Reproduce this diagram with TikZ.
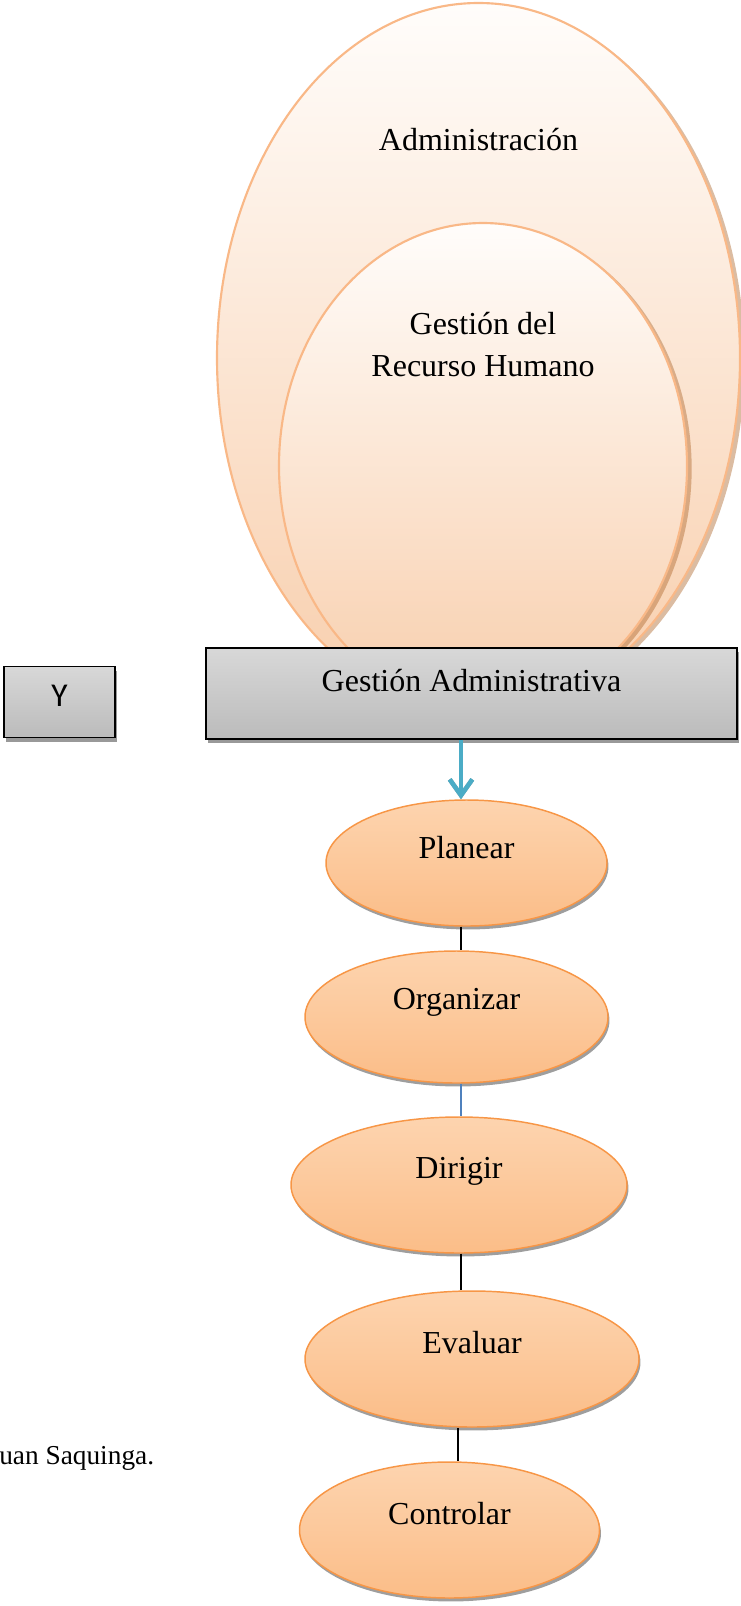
\documentclass[tikz,border=0pt]{standalone}
\usepackage{fontspec}
\setmainfont{Liberation Serif}
\newfontfamily\boxsans{Carlito}
\usetikzlibrary{shapes.geometric,arrows.meta,shadows}

% palette
\definecolor{peachline}{HTML}{F9B887}
\definecolor{peachtop}{HTML}{FFFDFB}
\definecolor{peachbot}{HTML}{F8CEAC}
\definecolor{shadebrown}{HTML}{B06A30}
\definecolor{procline}{HTML}{F79646}
\definecolor{proctop}{HTML}{FDD4AF}
\definecolor{procbot}{HTML}{FBBD88}
\definecolor{boxtop}{HTML}{D8D8D8}
\definecolor{boxbot}{HTML}{BBBBBB}
\definecolor{arrowblue}{HTML}{4BACC6}
\definecolor{linkblue}{HTML}{4F81BD}

\begin{document}
\begin{tikzpicture}[x=0.75pt,y=-0.75pt,
  bigoval/.style={ellipse, draw=peachline, line width=1.6pt,
    top color=peachtop, bottom color=peachbot, inner sep=0pt,
    drop shadow={shadow xshift=3.5pt, shadow yshift=-2pt, fill=shadebrown, opacity=.45}},
  procoval/.style={ellipse, draw=procline, line width=1.1pt,
    top color=proctop, bottom color=procbot, inner sep=0pt,
    drop shadow={shadow xshift=1.1pt, shadow yshift=-2.6pt, fill=black!38, opacity=1}},
  graybox/.style={rectangle, draw=black, line width=1.2pt,
    top color=boxtop, bottom color=boxbot, inner sep=0pt,
    drop shadow={shadow xshift=1.5pt, shadow yshift=-3pt, fill=black!40, opacity=1}},
  lbl/.style={font=\fontsize{24}{31.5}\selectfont, text=black, align=center},
  link/.style={line width=0.8pt, draw=black}
]
\useasboundingbox (0,0) rectangle (741,1606);

% nested concepts
\node[bigoval, minimum width=392.25pt, minimum height=532.5pt,
      label={[lbl, yshift=163.5pt]center:Administración}] (admin) at (478.5,358) {};
\node[bigoval, minimum width=306pt, minimum height=364.5pt,
      label={[lbl, yshift=90.75pt]center:{Gestión del\\Recurso Humano}}] (rrhh) at (483,466) {};

% headline boxes
\node[graybox, minimum width=398.25pt, minimum height=68.25pt,
      label={[lbl, yshift=10.1pt]center:Gestión Administrativa}] (ga) at (471.5,693.5) {};
\node[graybox, minimum width=83.25pt, minimum height=53.25pt,
      label={[font=\boxsans\fontsize{25}{30}\selectfont, yshift=4.9pt]center:Y}] (y) at (59.5,702) {};

% process stages
\node[procoval, minimum width=210.75pt, minimum height=94.5pt,
      label={[lbl, yshift=11.25pt]center:Planear}] (planear) at (466.5,863) {};
\node[procoval, minimum width=227.25pt, minimum height=99pt,
      label={[lbl, yshift=11.25pt]center:Organizar}] (organizar) at (456.5,1017) {};
\node[procoval, minimum width=252pt, minimum height=102pt,
      label={[lbl, yshift=10pt]center:Dirigir}] (dirigir) at (459,1185) {};
\node[procoval, minimum width=250.5pt, minimum height=102pt,
      label={[lbl, yshift=12.5pt]center:Evaluar}] (evaluar) at (472,1359) {};
\node[procoval, minimum width=225pt, minimum height=102pt,
      label={[lbl, yshift=12.5pt]center:Controlar}] (controlar) at (449.5,1530) {};

% vertical spine of the flow
\coordinate (spine) at (461,0);
\coordinate (spinelow) at (458,0);

% arrow from the headline box into the first stage
\draw[line width=3.4pt, black!35, -{Straight Barb[length=12pt,width=17pt]}, shift={(2,3)}]
  (ga.south -| spine) -- (planear.north -| spine);
\draw[line width=3.4pt, arrowblue, -{Straight Barb[length=12pt,width=17pt]}]
  (ga.south -| spine) -- (planear.north -| spine);

% links between stages
\draw[link] (planear.south -| spine) -- (organizar.north -| spine);
\draw[link, draw=linkblue] (organizar.south -| spine) -- (dirigir.north -| spine);
\draw[link] (dirigir.south -| spine) -- (evaluar.north -| spine);
\draw[link] (evaluar.south -| spinelow) -- (controlar.north -| spinelow);

% source note
\node[anchor=base west, inner sep=0pt, font=\fontsize{20.5}{24}\selectfont] (fuente) at (-1,1464) {uan Saquinga.};
\end{tikzpicture}
\end{document}
